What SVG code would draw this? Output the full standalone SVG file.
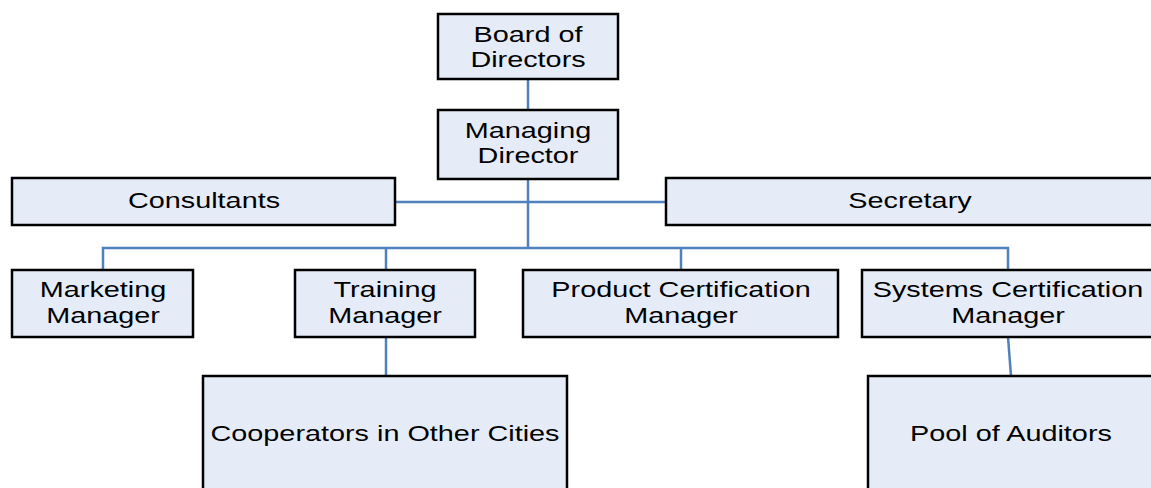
<svg xmlns="http://www.w3.org/2000/svg" width="1151" height="488" viewBox="0 0 1151 488">
  <style>
    .box { fill: #E6ECF7; stroke: #000000; stroke-width: 2.5; }
    .lbl { font-family: "Liberation Sans", Arial, sans-serif; font-size: 22px; fill: #000000; text-anchor: middle; }
    .link { fill: none; stroke: #4F81BD; stroke-width: 2.5; }
  </style>
  <rect width="1151" height="488" fill="#FFFFFF"/>

  <!-- connectors -->
  <g id="connectors">
    <line class="link" x1="528" y1="79" x2="528" y2="110"/>
    <line class="link" x1="528" y1="179" x2="528" y2="248"/>
    <line class="link" x1="395" y1="202" x2="666" y2="202"/>
    <polyline class="link" points="103,270 103,248 1008,248 1008,270"/>
    <line class="link" x1="386" y1="248" x2="386" y2="270"/>
    <line class="link" x1="681" y1="248" x2="681" y2="270"/>
    <line class="link" x1="386" y1="337" x2="386" y2="376"/>
    <line class="link" x1="1008" y1="337" x2="1011" y2="376"/>
  </g>

  <!-- labels use a wide face: each is scaled 1.31x horizontally about its centre -->
  <g id="board">
    <rect class="box" x="438" y="14" width="180" height="65"/>
    <text class="lbl" transform="translate(528 42) scale(1.31 1)">Board of</text>
    <text class="lbl" transform="translate(528 67) scale(1.31 1)">Directors</text>
  </g>

  <g id="managing-director">
    <rect class="box" x="438" y="110" width="180" height="69"/>
    <text class="lbl" transform="translate(528 138) scale(1.31 1)">Managing</text>
    <text class="lbl" transform="translate(528 163) scale(1.31 1)">Director</text>
  </g>

  <g id="consultants">
    <rect class="box" x="12" y="178" width="383" height="47"/>
    <text class="lbl" transform="translate(204 208) scale(1.31 1)">Consultants</text>
  </g>

  <g id="secretary">
    <rect class="box" x="666" y="178" width="488" height="47"/>
    <text class="lbl" transform="translate(910 208) scale(1.31 1)">Secretary</text>
  </g>

  <g id="marketing">
    <rect class="box" x="12" y="270" width="181" height="67"/>
    <text class="lbl" transform="translate(103 297) scale(1.31 1)">Marketing</text>
    <text class="lbl" transform="translate(103 323) scale(1.31 1)">Manager</text>
  </g>

  <g id="training">
    <rect class="box" x="295" y="270" width="180" height="67"/>
    <text class="lbl" transform="translate(385 297) scale(1.31 1)">Training</text>
    <text class="lbl" transform="translate(385 323) scale(1.31 1)">Manager</text>
  </g>

  <g id="product-cert">
    <rect class="box" x="523" y="270" width="315" height="67"/>
    <text class="lbl" transform="translate(681 297) scale(1.31 1)">Product Certification</text>
    <text class="lbl" transform="translate(681 323) scale(1.31 1)">Manager</text>
  </g>

  <g id="systems-cert">
    <rect class="box" x="862" y="270" width="292" height="67"/>
    <text class="lbl" transform="translate(1008 297) scale(1.31 1)">Systems Certification</text>
    <text class="lbl" transform="translate(1008 323) scale(1.31 1)">Manager</text>
  </g>

  <g id="cooperators">
    <rect class="box" x="203" y="376" width="364" height="120"/>
    <text class="lbl" transform="translate(385 441) scale(1.31 1)">Cooperators in Other Cities</text>
  </g>

  <g id="auditors">
    <rect class="box" x="868" y="376" width="286" height="120"/>
    <text class="lbl" transform="translate(1011 441) scale(1.31 1)">Pool of Auditors</text>
  </g>
</svg>
